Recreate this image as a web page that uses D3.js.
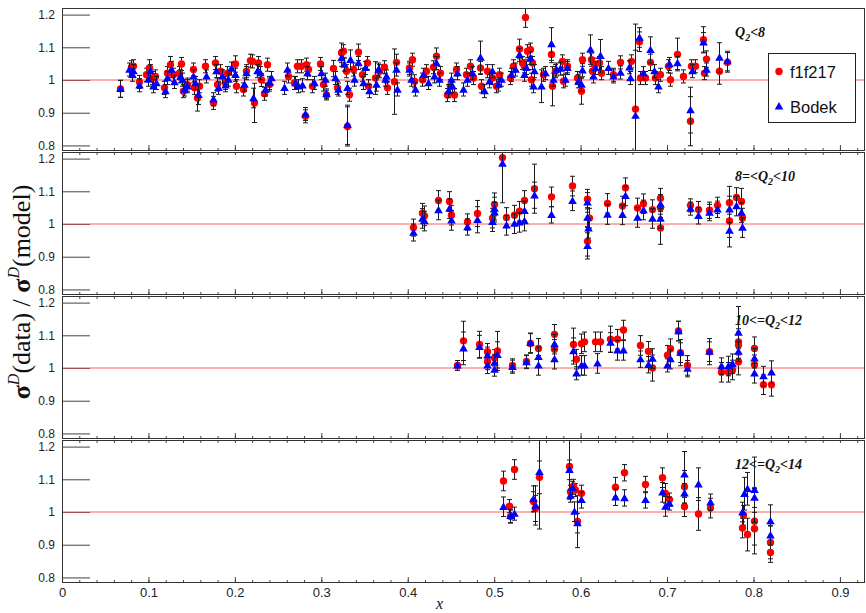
<!DOCTYPE html>
<html>
<head>
<meta charset="utf-8">
<script src="https://cdn.jsdelivr.net/npm/d3@7"></script>
<style>
  body { margin: 0; background: #fff; }
  svg { display: block; }
</style>
</head>
<body>
<svg id="chart" width="866" height="613"></svg>
<script>
// tick values
const xMajorTicks = [0, 0.1, 0.2, 0.3, 0.4, 0.5, 0.6, 0.7, 0.8, 0.9]
const xMinorTicks = d3.range(0, 47).map(i => +(i * 0.02).toFixed(2))
const yTicks = [0.8, 0.9, 1, 1.1, 1.2]

// Q2 bins, one panel each: [before "Q", after subscript]
const panelLabels = [['', '<8'], ['8=<', '<10'], ['10<=', '<12'], ['12<=', '<14']]

// [x, ratio, error]  f1f217 (red) and Bodek (blue), per Q2 bin
const f1Q1 = [
  [0.067,0.973,0.026],[0.080,1.039,0.02],[0.082,1.042,0.02],[0.0895,0.994,0.02],[0.097,1.016,0.02],
  [0.101,1.037,0.025],[0.104,1.006,0.02],[0.108,1.011,0.02],[0.118,0.976,0.02],[0.121,1.021,0.02],
  [0.125,1.047,0.025],[0.128,1.016,0.02],[0.135,1.021,0.02],[0.138,1.049,0.02],[0.140,0.966,0.02],
  [0.145,0.986,0.02],[0.151,1.032,0.02],[0.153,0.976,0.02],[0.156,0.945,0.04],[0.158,0.981,0.02],
  [0.166,1.042,0.02],[0.175,0.930,0.02],[0.177,1.052,0.02],[0.179,0.986,0.02],[0.183,1.027,0.02],
  [0.188,0.991,0.02],[0.191,1.021,0.02],[0.200,1.049,0.025],[0.201,0.981,0.02],[0.209,0.971,0.02],
  [0.213,1.027,0.02],[0.217,1.059,0.02],[0.220,1.057,0.02],[0.222,0.930,0.06],[0.227,1.052,0.02],
  [0.230,1.000,0.02],[0.234,0.958,0.02],[0.237,1.047,0.02],[0.240,0.986,0.02],[0.262,1.011,0.02],
  [0.268,0.991,0.02],[0.272,1.042,0.02],[0.276,1.042,0.02],[0.282,1.047,0.02],[0.281,0.889,0.02],
  [0.285,1.032,0.02],[0.289,0.981,0.02],[0.299,1.049,0.02],[0.302,0.986,0.02],[0.306,0.954,0.015],
  [0.314,1.035,0.025],[0.318,0.976,0.02],[0.323,1.083,0.03],[0.325,1.088,0.02],[0.329,1.027,0.02],
  [0.332,0.955,0.02],[0.330,0.858,0.06],[0.337,1.032,0.02],[0.343,1.085,0.025],[0.347,1.016,0.02],
  [0.353,1.052,0.02],[0.354,0.981,0.02],[0.362,1.006,0.05],[0.367,1.027,0.02],[0.372,1.039,0.02],
  [0.376,0.976,0.02],[0.384,0.995,0.1],[0.386,1.054,0.025],[0.401,1.037,0.02],[0.405,1.062,0.02],
  [0.407,0.996,0.02],[0.416,1.001,0.02],[0.421,1.027,0.02],[0.429,1.039,0.02],[0.433,1.073,0.025],
  [0.437,1.021,0.02],[0.445,0.954,0.02],[0.449,0.981,0.02],[0.453,0.954,0.02],[0.456,1.032,0.02],
  [0.467,1.016,0.02],[0.472,1.042,0.02],[0.476,1.006,0.02],[0.484,1.037,0.02],[0.485,0.981,0.02],
  [0.492,1.027,0.02],[0.498,1.006,0.02],[0.502,0.981,0.02],[0.506,1.016,0.02],[0.518,1.006,0.02],
  [0.522,1.042,0.02],[0.529,1.095,0.03],[0.532,1.052,0.02],[0.536,1.191,0.03],[0.538,1.088,0.02],
  [0.534,1.042,0.02],[0.541,1.093,0.02],[0.543,1.001,0.02],[0.544,1.052,0.02],[0.557,1.016,0.02],
  [0.566,1.078,0.025],[0.567,0.981,0.06],[0.570,1.027,0.02],[0.578,1.057,0.02],[0.580,0.996,0.02],
  [0.584,1.042,0.02],[0.596,1.006,0.02],[0.600,0.966,0.04],[0.602,1.062,0.02],[0.612,1.062,0.02],
  [0.613,1.027,0.02],[0.616,1.047,0.02],[0.621,1.052,0.02],[0.623,1.021,0.02],[0.637,1.016,0.02],
  [0.645,1.054,0.02],[0.658,1.057,0.02],[0.663,0.911,0.26],[0.667,1.117,0.03],[0.669,1.006,0.02],
  [0.674,1.006,0.02],[0.680,1.054,0.025],[0.686,1.006,0.02],[0.692,1.016,0.02],[0.701,1.042,0.02],
  [0.703,1.001,0.02],[0.712,1.078,0.05],[0.718,1.011,0.02],[0.727,0.874,0.075],[0.728,1.042,0.02],
  [0.732,1.042,0.02],[0.742,1.123,0.04],[0.743,1.021,0.02],[0.745,1.064,0.025],[0.760,1.027,0.04],
  [0.769,1.054,0.03]
]
const bodekQ1 = [
  [0.067,0.973,0.026],[0.077,1.032,0.02],[0.081,1.016,0.02],[0.082,1.027,0.02],[0.0895,0.984,0.02],
  [0.099,1.001,0.02],[0.102,1.027,0.02],[0.105,0.981,0.02],[0.109,0.991,0.02],[0.119,0.966,0.02],
  [0.122,1.006,0.02],[0.126,1.032,0.025],[0.129,0.994,0.02],[0.136,1.011,0.02],[0.139,1.001,0.02],
  [0.141,0.971,0.02],[0.145,0.981,0.02],[0.151,1.011,0.02],[0.154,0.991,0.02],[0.157,0.955,0.03],
  [0.167,1.011,0.02],[0.175,0.941,0.02],[0.178,1.027,0.02],[0.180,0.976,0.02],[0.185,1.011,0.02],
  [0.189,0.984,0.02],[0.192,1.001,0.02],[0.195,1.035,0.02],[0.200,1.016,0.02],[0.211,0.986,0.02],
  [0.213,1.021,0.02],[0.221,0.945,0.03],[0.226,1.027,0.02],[0.229,1.021,0.02],[0.235,0.971,0.02],
  [0.240,0.991,0.02],[0.242,1.006,0.02],[0.257,0.976,0.02],[0.260,1.032,0.02],[0.270,0.991,0.02],
  [0.273,0.981,0.02],[0.278,0.984,0.02],[0.283,1.021,0.02],[0.281,0.896,0.02],[0.291,0.991,0.02],
  [0.300,1.021,0.02],[0.304,1.001,0.02],[0.306,0.958,0.015],[0.316,1.006,0.02],[0.319,0.971,0.02],
  [0.323,1.067,0.025],[0.326,1.047,0.02],[0.330,0.976,0.02],[0.330,0.863,0.06],[0.333,1.062,0.03],
  [0.338,1.001,0.02],[0.343,1.052,0.02],[0.348,0.991,0.02],[0.351,1.037,0.02],[0.355,0.966,0.02],
  [0.363,0.986,0.02],[0.366,1.032,0.02],[0.374,1.001,0.02],[0.375,1.011,0.02],[0.386,1.032,0.02],
  [0.387,0.971,0.02],[0.402,1.032,0.02],[0.404,1.001,0.02],[0.408,0.971,0.02],[0.418,1.016,0.02],
  [0.423,0.991,0.02],[0.430,1.011,0.02],[0.433,1.052,0.02],[0.436,1.001,0.02],[0.447,0.966,0.02],
  [0.451,0.981,0.02],[0.450,1.001,0.02],[0.457,1.021,0.02],[0.464,0.971,0.02],[0.468,1.001,0.02],
  [0.474,1.021,0.02],[0.484,1.069,0.05],[0.488,0.966,0.02],[0.494,0.996,0.02],[0.498,1.027,0.02],
  [0.504,0.986,0.02],[0.508,1.001,0.02],[0.520,1.016,0.02],[0.524,1.032,0.02],[0.529,1.077,0.02],
  [0.537,1.037,0.02],[0.534,1.016,0.02],[0.541,1.067,0.02],[0.545,0.981,0.02],[0.546,1.027,0.02],
  [0.554,0.981,0.05],[0.559,1.021,0.02],[0.566,1.110,0.05],[0.568,1.001,0.02],[0.571,1.032,0.02],
  [0.576,1.035,0.02],[0.582,1.001,0.02],[0.584,1.037,0.02],[0.597,0.996,0.02],[0.600,0.986,0.02],
  [0.602,1.030,0.02],[0.611,1.093,0.045],[0.614,1.011,0.02],[0.617,1.037,0.02],[0.622,1.074,0.05],
  [0.632,1.037,0.02],[0.638,1.011,0.02],[0.646,1.023,0.02],[0.656,1.039,0.02],[0.657,1.006,0.02],
  [0.663,0.891,0.2],[0.667,1.130,0.03],[0.672,1.021,0.02],[0.680,1.092,0.04],[0.685,1.027,0.02],
  [0.690,0.981,0.02],[0.702,1.049,0.02],[0.712,1.052,0.02],[0.727,0.908,0.07],[0.729,1.027,0.02],
  [0.742,1.115,0.03],[0.745,1.032,0.02],[0.760,1.069,0.045],[0.769,1.058,0.03]
]

const f1Q2 = [
  [0.406,0.989,0.026],[0.416,1.033,0.03],[0.419,1.025,0.03],[0.435,1.072,0.03],[0.448,1.069,0.03],
  [0.450,1.027,0.03],[0.469,1.006,0.025],[0.480,1.032,0.04],[0.498,1.018,0.03],[0.500,1.060,0.035],
  [0.509,1.203,0.02],[0.514,1.020,0.03],[0.523,1.027,0.03],[0.529,1.039,0.03],[0.535,1.072,0.03],
  [0.546,1.108,0.075],[0.566,1.083,0.03],[0.590,1.116,0.03],[0.607,1.076,0.03],[0.610,1.018,0.03],
  [0.607,0.947,0.045],[0.630,1.063,0.03],[0.648,1.055,0.03],[0.651,1.111,0.03],[0.665,1.049,0.03],
  [0.672,1.062,0.03],[0.683,1.044,0.03],[0.692,1.079,0.03],[0.692,1.050,0.03],[0.692,0.988,0.05],
  [0.727,1.057,0.02],[0.736,1.044,0.025],[0.748,1.042,0.025],[0.758,1.057,0.025],[0.772,1.065,0.05],
  [0.772,1.009,0.05],[0.780,1.081,0.03],[0.785,1.069,0.04],[0.787,1.018,0.03]
]
const bodekQ2 = [
  [0.406,0.974,0.026],[0.416,1.017,0.03],[0.419,1.009,0.03],[0.435,1.043,0.03],[0.448,1.047,0.03],
  [0.450,1.011,0.03],[0.469,0.991,0.025],[0.480,1.013,0.04],[0.498,1.007,0.03],[0.500,1.047,0.035],
  [0.500,1.036,0.03],[0.509,1.185,0.12],[0.514,0.996,0.03],[0.523,1.001,0.03],[0.529,1.005,0.03],
  [0.535,1.040,0.03],[0.535,1.009,0.03],[0.546,1.088,0.04],[0.566,1.028,0.025],[0.590,1.071,0.03],
  [0.607,1.066,0.03],[0.607,1.020,0.03],[0.608,0.987,0.03],[0.607,0.933,0.04],[0.630,1.029,0.03],
  [0.648,1.028,0.03],[0.651,1.086,0.03],[0.665,1.020,0.03],[0.672,1.043,0.03],[0.683,1.017,0.03],
  [0.692,1.060,0.03],[0.692,1.017,0.03],[0.727,1.047,0.02],[0.736,1.025,0.025],[0.748,1.035,0.025],
  [0.758,1.045,0.025],[0.772,1.045,0.04],[0.772,0.980,0.05],[0.780,1.055,0.03],[0.785,1.035,0.03],
  [0.787,0.989,0.03]
]

const f1Q3 = [
  [0.4565,1.008,0.015],[0.464,1.083,0.06],[0.482,1.072,0.04],[0.492,1.050,0.025],[0.492,1.020,0.025],
  [0.500,1.031,0.025],[0.503,1.052,0.06],[0.521,1.008,0.02],[0.537,1.020,0.02],[0.541,1.075,0.03],
  [0.551,1.060,0.03],[0.569,1.103,0.03],[0.569,1.057,0.03],[0.591,1.072,0.05],[0.595,1.027,0.03],
  [0.600,1.074,0.03],[0.604,1.080,0.03],[0.617,1.080,0.03],[0.622,1.080,0.03],[0.634,1.088,0.04],
  [0.642,1.088,0.03],[0.649,1.116,0.03],[0.669,1.069,0.03],[0.678,1.051,0.03],[0.683,1.000,0.04],
  [0.700,1.039,0.03],[0.703,1.059,0.03],[0.713,1.113,0.03],[0.715,1.047,0.04],[0.723,1.008,0.03],
  [0.748,1.050,0.04],[0.762,0.987,0.03],[0.771,0.987,0.03],[0.775,0.994,0.03],[0.782,1.080,0.04],
  [0.782,1.070,0.04],[0.782,1.019,0.04],[0.801,1.060,0.035],[0.801,1.010,0.03],[0.811,0.949,0.03],
  [0.820,0.949,0.035]
]
const bodekQ3 = [
  [0.4565,1.008,0.015],[0.464,1.060,0.05],[0.482,1.065,0.035],[0.492,1.039,0.025],[0.492,1.008,0.025],
  [0.500,1.017,0.025],[0.500,0.995,0.02],[0.503,1.040,0.04],[0.521,1.004,0.02],[0.537,1.018,0.02],
  [0.541,1.077,0.03],[0.551,1.034,0.03],[0.551,1.008,0.03],[0.569,1.073,0.03],[0.569,1.027,0.03],
  [0.591,1.052,0.04],[0.595,0.984,0.02],[0.600,1.008,0.03],[0.604,1.008,0.03],[0.619,1.014,0.03],
  [0.634,1.078,0.03],[0.642,1.054,0.03],[0.649,1.054,0.03],[0.669,1.027,0.025],[0.678,1.010,0.025],
  [0.683,1.029,0.03],[0.700,1.008,0.02],[0.703,1.027,0.03],[0.713,1.113,0.03],[0.715,1.047,0.03],
  [0.723,0.998,0.025],[0.748,1.050,0.03],[0.762,1.006,0.025],[0.771,1.006,0.03],[0.775,1.013,0.03],
  [0.782,1.108,0.08],[0.782,1.050,0.03],[0.801,1.030,0.03],[0.801,0.984,0.03],[0.811,0.975,0.03],
  [0.820,0.987,0.035]
]

const f1Q4 = [
  [0.510,1.095,0.03],[0.517,1.018,0.02],[0.518,0.986,0.02],[0.523,1.130,0.03],[0.545,1.032,0.03],
  [0.547,1.011,0.04],[0.552,1.106,0.05],[0.587,1.139,0.1],[0.588,1.062,0.02],[0.591,1.080,0.02],
  [0.593,1.067,0.02],[0.596,0.971,0.08],[0.600,1.057,0.025],[0.640,1.076,0.03],[0.650,1.120,0.025],
  [0.675,1.084,0.025],[0.694,1.105,0.03],[0.698,1.057,0.03],[0.702,1.038,0.02],[0.720,1.077,0.05],
  [0.720,1.016,0.03],[0.736,0.994,0.05],[0.750,1.012,0.03],[0.787,0.951,0.03],[0.788,0.990,0.03],
  [0.792,0.931,0.05],[0.801,0.972,0.1],[0.801,0.949,0.05],[0.819,0.907,0.05],[0.819,0.876,0.03]
]
const bodekQ4 = [
  [0.510,1.016,0.03],[0.518,0.988,0.02],[0.523,0.995,0.02],[0.545,1.040,0.04],[0.547,1.020,0.06],
  [0.552,1.123,0.175],[0.587,1.129,0.03],[0.588,1.050,0.02],[0.590,1.074,0.02],[0.592,1.001,0.03],
  [0.596,0.966,0.03],[0.600,1.037,0.025],[0.640,1.045,0.025],[0.650,1.043,0.025],[0.675,1.037,0.025],
  [0.694,1.060,0.03],[0.698,1.017,0.03],[0.702,1.026,0.02],[0.720,1.115,0.07],[0.720,1.057,0.03],
  [0.736,1.085,0.05],[0.750,1.030,0.025],[0.787,1.000,0.03],[0.789,1.056,0.05],[0.792,1.071,0.05],
  [0.801,1.068,0.1],[0.801,1.044,0.03],[0.819,0.972,0.05],[0.819,0.929,0.03]
]

const f1Panels = [f1Q1, f1Q2, f1Q3, f1Q4]
const bodekPanels = [bodekQ1, bodekQ2, bodekQ3, bodekQ4]

const svg = d3.select('#chart')
const left = 62, right = 865
const panelTop = i => 8 + 144 * i
const panelH = 143

const x = d3.scaleLinear().domain([0, 0.929]).range([left, right])
const fmt = d => String(+d.toFixed(1))
const sans = 'Helvetica, "Liberation Sans", Arial, sans-serif'
const serif = '"Times New Roman", "Liberation Serif", serif'
const tri = d3.symbol().type(d3.symbolTriangle).size(32)

function drawSeries(g, y, data, kind) {
  const bars = g.append('g').attr('stroke', '#1a1a1a').attr('stroke-width', 1)
  data.forEach(([xv, v, e]) => {
    const px = Math.round(x(xv)) + 0.5
    const y1 = y(v - e), y2 = y(v + e)
    bars.append('line').attr('x1', px).attr('x2', px).attr('y1', y1).attr('y2', y2)
    bars.append('line').attr('x1', px - 2.5).attr('x2', px + 2.5).attr('y1', y1).attr('y2', y1)
    bars.append('line').attr('x1', px - 2.5).attr('x2', px + 2.5).attr('y1', y2).attr('y2', y2)
  })
  if (kind === 'f1') {
    g.append('g').selectAll('circle').data(data).join('circle')
      .attr('cx', d => Math.round(x(d[0])) + 0.5)
      .attr('cy', d => y(d[1]))
      .attr('r', 3.7)
      .attr('fill', '#ff0000')
  } else {
    g.append('g').selectAll('path').data(data).join('path')
      .attr('d', tri)
      .attr('transform', d => `translate(${Math.round(x(d[0])) + 0.5},${y(d[1]) + 0.7})`)
      .attr('fill', '#0000ff')
  }
}

const defs = svg.append('defs')

f1Panels.forEach((f1, i) => {
  const top = panelTop(i), bot = top + panelH
  const y = d3.scaleLinear().domain([0.7829, 1.2202]).range([bot, top])
  const g = svg.append('g')

  defs.append('clipPath').attr('id', `clip${i}`)
    .append('rect').attr('x', left).attr('y', top).attr('width', right - left).attr('height', panelH)

  // y axis: long ticks pointing into the frame
  g.append('g').attr('transform', `translate(${left},0)`)
    .call(d3.axisLeft(y).tickValues(yTicks).tickSize(-28).tickPadding(7).tickFormat(fmt))
    .call(a => a.select('.domain').remove())
    .call(a => a.selectAll('line').attr('stroke', '#444'))
    .call(a => a.selectAll('text').attr('font-family', sans).attr('font-size', 12).attr('fill', '#222'))

  // x ticks along bottom (and top for lower panels)
  g.append('g').attr('transform', `translate(0,${bot})`)
    .call(d3.axisBottom(x).tickValues(xMinorTicks).tickSize(-3).tickFormat(''))
    .call(a => a.select('.domain').remove())
    .call(a => a.selectAll('line').attr('stroke', '#444'))
  g.append('g').attr('transform', `translate(0,${bot})`)
    .call(d3.axisBottom(x).tickValues(xMajorTicks).tickSize(-6).tickPadding(5)
      .tickFormat(i === 3 ? fmt : ''))
    .call(a => a.select('.domain').remove())
    .call(a => a.selectAll('line').attr('stroke', '#444'))
    .call(a => a.selectAll('text').attr('font-family', sans).attr('font-size', 13).attr('fill', '#222'))
  if (i > 0) {
    g.append('g').attr('transform', `translate(0,${top})`)
      .call(d3.axisTop(x).tickValues(xMinorTicks).tickSize(-3).tickFormat(''))
      .call(a => a.select('.domain').remove())
      .call(a => a.selectAll('line').attr('stroke', '#444'))
  }

  // reference line at ratio 1
  g.append('line').attr('x1', left).attr('x2', right).attr('y1', y(1)).attr('y2', y(1))
    .attr('stroke', '#ff5a5a').attr('stroke-width', 1)

  const plot = g.append('g').attr('clip-path', `url(#clip${i})`)
  drawSeries(plot, y, f1, 'f1')
  drawSeries(plot, y, bodekPanels[i], 'bodek')

  // frame
  g.append('rect').attr('x', left + 0.5).attr('y', top + 0.5)
    .attr('width', right - left - 1).attr('height', panelH - 1)
    .attr('fill', 'none').attr('stroke', '#333').attr('stroke-width', 1)

  // Q2 bin label
  const [pre, post] = panelLabels[i]
  const lab = g.append('text').attr('x', 735).attr('y', top + 29)
    .attr('font-family', serif).attr('font-style', 'italic').attr('font-weight', 'bold')
    .attr('font-size', 14).attr('fill', '#111')
  lab.append('tspan').text(pre + 'Q')
  lab.append('tspan').attr('dy', 4).attr('font-size', 10).text('2')
  lab.append('tspan').attr('dy', -4).text(post)
})

// legend
const leg = svg.append('g')
leg.append('rect').attr('x', 768.5).attr('y', 53.5).attr('width', 87).attr('height', 69)
  .attr('fill', '#fff').attr('stroke', '#222').attr('stroke-width', 1)
leg.append('circle').attr('cx', 779).attr('cy', 71.5).attr('r', 3.7).attr('fill', '#ff0000')
leg.append('path').attr('d', tri).attr('transform', 'translate(779,107)').attr('fill', '#0000ff')
leg.append('text').attr('x', 790).attr('y', 77.5).text('f1f217')
  .attr('font-family', sans).attr('font-size', 16.5).attr('fill', '#111')
leg.append('text').attr('x', 790).attr('y', 113).text('Bodek')
  .attr('font-family', sans).attr('font-size', 16.5).attr('fill', '#111')

// axis titles
svg.append('text').attr('x', 436).attr('y', 609).text('x')
  .attr('font-family', serif).attr('font-style', 'italic').attr('font-size', 16).attr('fill', '#111')

const yt = svg.append('text')
  .attr('transform', 'translate(30,292) rotate(-90)')
  .attr('text-anchor', 'middle')
  .attr('font-family', serif).attr('font-size', 26).attr('fill', '#111')
yt.append('tspan').attr('font-weight', 'bold').text('σ')
yt.append('tspan').attr('dy', -11).attr('font-size', 16).attr('font-style', 'italic').text('D')
yt.append('tspan').attr('dy', 11).text('(data) / ')
yt.append('tspan').attr('font-weight', 'bold').text('σ')
yt.append('tspan').attr('dy', -11).attr('font-size', 16).attr('font-style', 'italic').text('D')
yt.append('tspan').attr('dy', 11).text('(model)')
</script>
</body>
</html>
